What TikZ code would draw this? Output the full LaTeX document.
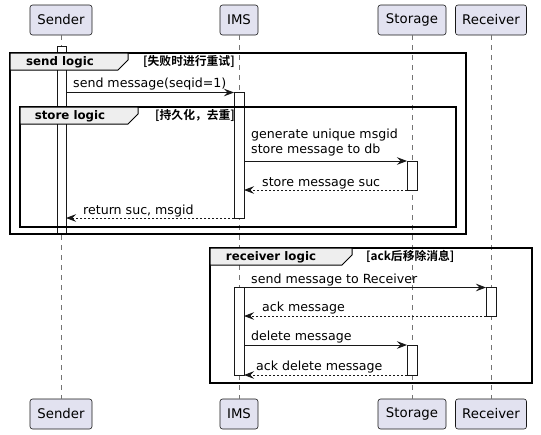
\documentclass[tikz,border=0pt]{standalone}
\usepackage{fontspec}
\setmainfont{DejaVu Sans}
\newfontfamily\cjk{Noto Sans CJK SC}[BoldFont={Noto Sans CJK SC Bold}]
\usetikzlibrary{arrows.meta}
\definecolor{partfill}{HTML}{E2E2F0}
\definecolor{tabfill}{HTML}{EEEEEE}
\definecolor{edge}{HTML}{181818}
\begin{document}
\begin{tikzpicture}[x=1pt,y=-1pt,
  part/.style={draw=edge, fill=partfill, rounded corners=2.5pt, line width=0.6pt,
    minimum height=30pt, inner sep=0pt, font=\fontsize{13.3}{15}\selectfont},
  life/.style={draw=edge!60, dash pattern=on 5pt off 5pt, line width=0.5pt},
  actbar/.style={draw=edge, fill=white, line width=0.8pt},
  frame/.style={draw=black, line width=1.5pt},
  tab/.style={draw=black, fill=tabfill, line width=1pt},
  msg/.style={draw=edge, line width=0.8pt, -{Stealth[length=10pt,width=7.5pt,inset=3.5pt]}},
  ret/.style={msg, dash pattern=on 2pt off 2pt},
  lbl/.style={font=\fontsize{12.6}{15}\selectfont, inner sep=0pt, anchor=base west, align=left},
  grp/.style={font=\bfseries\fontsize{11.8}{13}\selectfont, inner sep=0pt},
  cond/.style={font=\cjk\bfseries\fontsize{11.8}{13}\selectfont, inner sep=0pt, anchor=west}]
\useasboundingbox (0,0) rectangle (541,434);

% participants, top and bottom
\node[part, minimum width=62pt] (sT) at (61,20) {Sender};
\node[part, minimum width=38pt] (iT) at (239,20) {IMS};
\node[part, minimum width=68pt] (dT) at (412,20) {Storage};
\node[part, minimum width=71pt] (rT) at (491,20) {Receiver};
\node[part, minimum width=62pt] (sB) at (61,414) {Sender};
\node[part, minimum width=38pt] (iB) at (239,414) {IMS};
\node[part, minimum width=68pt] (dB) at (412,414) {Storage};
\node[part, minimum width=71pt] (rB) at (491,414) {Receiver};

% lifelines
\draw[life] (sT) -- (sB);
\draw[life] (iT) -- (iB);
\draw[life] (dT) -- (dB);
\draw[life] (rT) -- (rB);

% activation bars
\draw[actbar] (57,46) rectangle (66,233);
\draw[actbar] (234,92.5) rectangle (244,218);
\draw[actbar] (407,161) rectangle (417,190);
\draw[actbar] (234,287.5) rectangle (244,375);
\draw[actbar] (486,287.5) rectangle (496,316);
\draw[actbar] (407,345) rectangle (417,375);

% group frames
\draw[frame] (10,53) rectangle (466,234);
\draw[tab] (10,53) -- (128,53) -- (128,60) -- (118,70) -- (10,70) -- cycle;
\node[grp] (g1) at (60,62) {send logic};
\node[cond] (c1) at (143,61.5) {[失败时进行重试]};

\draw[frame] (20,107) rectangle (456,227);
\draw[tab] (20,107) -- (138,107) -- (138,114) -- (128,124) -- (20,124) -- cycle;
\node[grp] (g2) at (70,116) {store logic};
\node[cond] (c2) at (155,115.5) {[持久化，去重]};

\draw[frame] (210,248) rectangle (532,383);
\draw[tab] (210,248) -- (352,248) -- (352,255) -- (342,265) -- (210,265) -- cycle;
\node[grp] (g3) at (271,257) {receiver logic};
\node[cond] (c3) at (366,256.5) {[ack后移除消息]};

% message end points
\coordinate (m1a) at (66,92.5);   \coordinate (m1b) at (234,92.5);
\coordinate (m2a) at (244,161);   \coordinate (m2b) at (407,161);
\coordinate (m3a) at (407,190);   \coordinate (m3b) at (244,190);
\coordinate (m4a) at (234,218);   \coordinate (m4b) at (66,218);
\coordinate (m5a) at (244,287.5); \coordinate (m5b) at (486,287.5);
\coordinate (m6a) at (486,316);   \coordinate (m6b) at (244,316);
\coordinate (m7a) at (244,345);   \coordinate (m7b) at (407,345);
\coordinate (m8a) at (407,375);   \coordinate (m8b) at (244,375);

% messages
\draw[msg] (m1a) -- (m1b);
\draw[msg] (m2a) -- (m2b);
\draw[ret] (m3a) -- (m3b);
\draw[ret] (m4a) -- (m4b);
\draw[msg] (m5a) -- (m5b);
\draw[ret] (m6a) -- (m6b);
\draw[msg] (m7a) -- (m7b);
\draw[ret] (m8a) -- (m8b);

% message labels
\node[lbl] (t1) at (73,87.5) {send message(seqid=1)};
\node[lbl] (t2) at (251,153.5) {generate unique msgid\\store message to db};
\node[lbl] (t3) at (262,186) {store message suc};
\node[lbl] (t4) at (83,214) {return suc, msgid};
\node[lbl] (t5) at (251,283) {send message to Receiver};
\node[lbl] (t6) at (262,311.5) {ack message};
\node[lbl] (t7) at (251,340.5) {delete message};
\node[lbl] (t8) at (256,370.5) {ack delete message};
\end{tikzpicture}
\end{document}
